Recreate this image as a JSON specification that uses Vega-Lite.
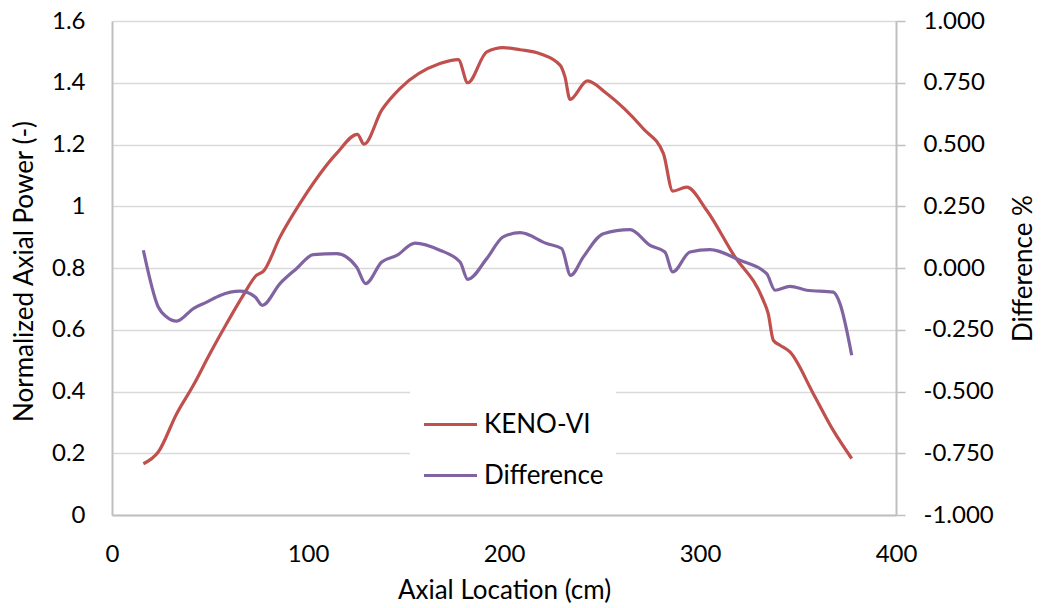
{
  "$schema": "https://vega.github.io/schema/vega-lite/v6.json",
  "width": 784,
  "height": 494,
  "autosize": {"type": "none"},
  "padding": {"left": 112, "top": 21, "right": 147, "bottom": 93},
  "background": "white",
  "config": {
    "font": "Lato",
    "view": {"stroke": null},
    "axis": {
      "labelFontSize": 24,
      "labelColor": "#000000",
      "titleFontSize": 26,
      "titleFontWeight": "normal",
      "titleColor": "#000000",
      "domainColor": "#BFBFBF",
      "domainWidth": 2,
      "labelFlush": false
    },
    "legend": {"labelFontSize": 26, "labelColor": "#000000"}
  },
  "datasets": {
    "keno": [
      {"x": 16.0, "v": 0.166, "series": "KENO-VI"},
      {"x": 23.6, "v": 0.204, "series": "KENO-VI"},
      {"x": 33.0, "v": 0.328, "series": "KENO-VI"},
      {"x": 41.5, "v": 0.42, "series": "KENO-VI"},
      {"x": 50.0, "v": 0.523, "series": "KENO-VI"},
      {"x": 58.5, "v": 0.62, "series": "KENO-VI"},
      {"x": 67.0, "v": 0.712, "series": "KENO-VI"},
      {"x": 73.8, "v": 0.777, "series": "KENO-VI"},
      {"x": 77.2, "v": 0.789, "series": "KENO-VI"},
      {"x": 85.7, "v": 0.9, "series": "KENO-VI"},
      {"x": 95.9, "v": 1.009, "series": "KENO-VI"},
      {"x": 114.6, "v": 1.171, "series": "KENO-VI"},
      {"x": 125.2, "v": 1.233, "series": "KENO-VI"},
      {"x": 128.6, "v": 1.201, "series": "KENO-VI"},
      {"x": 137.6, "v": 1.311, "series": "KENO-VI"},
      {"x": 146.9, "v": 1.381, "series": "KENO-VI"},
      {"x": 167.3, "v": 1.462, "series": "KENO-VI"},
      {"x": 176.7, "v": 1.475, "series": "KENO-VI"},
      {"x": 181.5, "v": 1.4, "series": "KENO-VI"},
      {"x": 191.2, "v": 1.5, "series": "KENO-VI"},
      {"x": 199.6, "v": 1.514, "series": "KENO-VI"},
      {"x": 208.2, "v": 1.507, "series": "KENO-VI"},
      {"x": 218.4, "v": 1.494, "series": "KENO-VI"},
      {"x": 228.6, "v": 1.457, "series": "KENO-VI"},
      {"x": 231.1, "v": 1.419, "series": "KENO-VI"},
      {"x": 233.7, "v": 1.346, "series": "KENO-VI"},
      {"x": 242.5, "v": 1.406, "series": "KENO-VI"},
      {"x": 252.4, "v": 1.365, "series": "KENO-VI"},
      {"x": 271.1, "v": 1.251, "series": "KENO-VI"},
      {"x": 281.3, "v": 1.171, "series": "KENO-VI"},
      {"x": 286.1, "v": 1.049, "series": "KENO-VI"},
      {"x": 293.2, "v": 1.062, "series": "KENO-VI"},
      {"x": 303.4, "v": 0.987, "series": "KENO-VI"},
      {"x": 317.0, "v": 0.844, "series": "KENO-VI"},
      {"x": 332.3, "v": 0.695, "series": "KENO-VI"},
      {"x": 334.8, "v": 0.652, "series": "KENO-VI"},
      {"x": 337.4, "v": 0.566, "series": "KENO-VI"},
      {"x": 340.8, "v": 0.55, "series": "KENO-VI"},
      {"x": 345.9, "v": 0.528, "series": "KENO-VI"},
      {"x": 357.8, "v": 0.393, "series": "KENO-VI"},
      {"x": 368.0, "v": 0.274, "series": "KENO-VI"},
      {"x": 377.4, "v": 0.183, "series": "KENO-VI"}
    ],
    "diff": [
      {"x": 16.0, "v": 0.072, "series": "Difference"},
      {"x": 23.6, "v": -0.158, "series": "Difference"},
      {"x": 27.9, "v": -0.198, "series": "Difference"},
      {"x": 33.0, "v": -0.215, "series": "Difference"},
      {"x": 41.5, "v": -0.164, "series": "Difference"},
      {"x": 48.3, "v": -0.138, "series": "Difference"},
      {"x": 55.1, "v": -0.111, "series": "Difference"},
      {"x": 65.3, "v": -0.094, "series": "Difference"},
      {"x": 73.0, "v": -0.117, "series": "Difference"},
      {"x": 76.7, "v": -0.151, "series": "Difference"},
      {"x": 85.7, "v": -0.063, "series": "Difference"},
      {"x": 94.2, "v": -0.002, "series": "Difference"},
      {"x": 102.7, "v": 0.054, "series": "Difference"},
      {"x": 114.6, "v": 0.058, "series": "Difference"},
      {"x": 124.8, "v": 0.004, "series": "Difference"},
      {"x": 129.4, "v": -0.063, "series": "Difference"},
      {"x": 137.6, "v": 0.024, "series": "Difference"},
      {"x": 145.3, "v": 0.051, "series": "Difference"},
      {"x": 154.6, "v": 0.101, "series": "Difference"},
      {"x": 167.3, "v": 0.072, "series": "Difference"},
      {"x": 177.6, "v": 0.024, "series": "Difference"},
      {"x": 181.5, "v": -0.046, "series": "Difference"},
      {"x": 191.2, "v": 0.038, "series": "Difference"},
      {"x": 199.6, "v": 0.126, "series": "Difference"},
      {"x": 208.2, "v": 0.143, "series": "Difference"},
      {"x": 221.8, "v": 0.099, "series": "Difference"},
      {"x": 229.4, "v": 0.079, "series": "Difference"},
      {"x": 234.0, "v": -0.03, "series": "Difference"},
      {"x": 240.5, "v": 0.045, "series": "Difference"},
      {"x": 250.7, "v": 0.139, "series": "Difference"},
      {"x": 264.3, "v": 0.155, "series": "Difference"},
      {"x": 274.5, "v": 0.092, "series": "Difference"},
      {"x": 282.1, "v": 0.065, "series": "Difference"},
      {"x": 286.1, "v": -0.016, "series": "Difference"},
      {"x": 294.9, "v": 0.065, "series": "Difference"},
      {"x": 305.1, "v": 0.074, "series": "Difference"},
      {"x": 320.4, "v": 0.031, "series": "Difference"},
      {"x": 334.0, "v": -0.023, "series": "Difference"},
      {"x": 338.3, "v": -0.09, "series": "Difference"},
      {"x": 345.9, "v": -0.074, "series": "Difference"},
      {"x": 354.4, "v": -0.09, "series": "Difference"},
      {"x": 368.0, "v": -0.098, "series": "Difference"},
      {"x": 371.4, "v": -0.144, "series": "Difference"},
      {"x": 377.4, "v": -0.353, "series": "Difference"}
    ]
  },
  "layer": [
    {
      "data": {"name": "keno"},
      "mark": {"type": "line", "interpolate": "monotone", "strokeWidth": 3.2},
      "encoding": {
        "x": {
          "field": "x", "type": "quantitative",
          "scale": {"domain": [0, 400], "nice": false},
          "axis": {
            "values": [0, 100, 200, 300, 400],
            "title": "Axial Location (cm)",
            "grid": false, "ticks": false,
            "labelPadding": 27,
            "titleY": 75, "titleBaseline": "middle"
          }
        },
        "y": {
          "field": "v", "type": "quantitative",
          "scale": {"domain": [0, 1.6], "nice": false, "zero": false},
          "axis": {
            "values": [0, 0.2, 0.4, 0.6, 0.8, 1, 1.2, 1.4, 1.6],
            "format": "~g",
            "title": "Normalized Axial Power (-)",
            "grid": true, "gridColor": "#D9D9D9", "gridWidth": 1.5,
            "ticks": false,
            "labelPadding": 27,
            "titleAngle": -90, "titleX": -88, "titleY": 250,
            "titleBaseline": "middle", "titleAlign": "center"
          }
        },
        "color": {
          "field": "series", "type": "nominal",
          "scale": {"domain": ["KENO-VI", "Difference"], "range": ["#C0504D", "#8064A2"]},
          "legend": {
            "orient": "none", "legendX": 298, "legendY": 363,
            "title": null,
            "symbolType": "stroke", "symbolSize": 2809, "symbolStrokeWidth": 3.2,
            "labelOffset": 5, "fillColor": "white", "padding": 12, "rowPadding": 9
          }
        }
      }
    },
    {
      "data": {"name": "diff"},
      "mark": {"type": "line", "interpolate": "monotone", "strokeWidth": 3.2},
      "encoding": {
        "x": {"field": "x", "type": "quantitative"},
        "y": {
          "field": "v", "type": "quantitative",
          "scale": {"domain": [-1, 1], "nice": false, "zero": false},
          "axis": {
            "orient": "right",
            "values": [-1, -0.75, -0.5, -0.25, 0, 0.25, 0.5, 0.75, 1],
            "labelExpr": "replace(format(datum.value, '.3f'), '\u2212', '-')",
            "title": "Difference %",
            "grid": false,
            "ticks": true, "tickSize": 9, "tickColor": "#BFBFBF", "tickWidth": 1.5,
            "labelPadding": 18,
            "titleAngle": -90, "titleX": 127, "titleY": 247,
            "titleBaseline": "middle", "titleAlign": "center"
          }
        },
        "color": {"field": "series", "type": "nominal"}
      }
    }
  ],
  "resolve": {"scale": {"y": "independent"}}
}
